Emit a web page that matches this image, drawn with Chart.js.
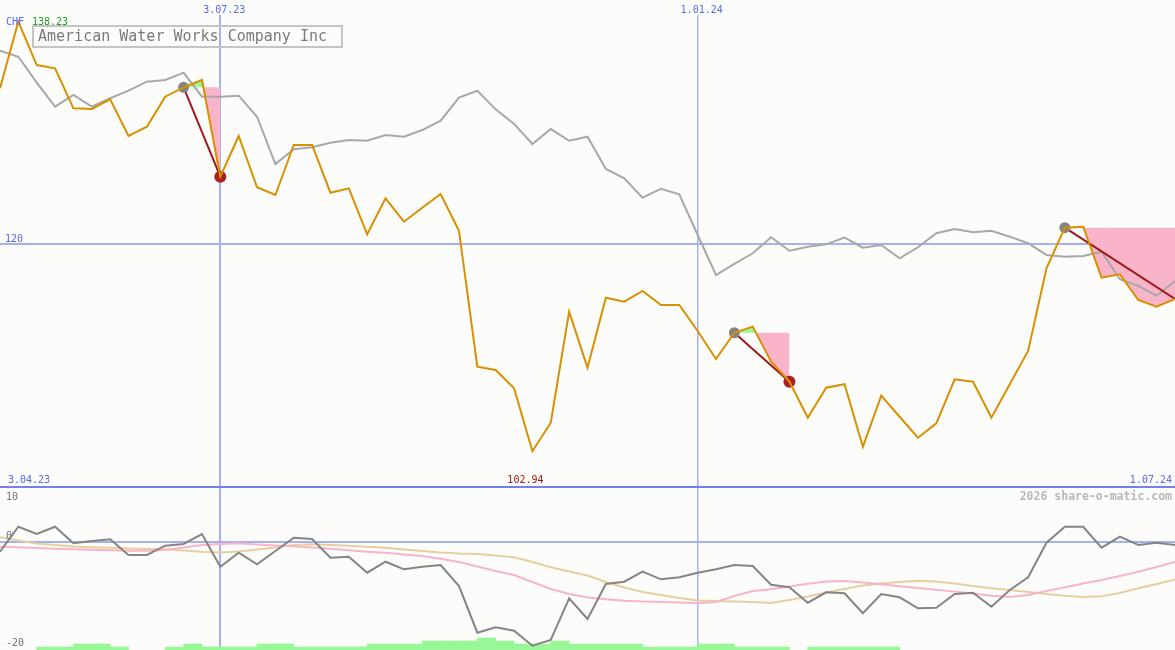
<!DOCTYPE html>
<html>
<head>
<meta charset="utf-8">
<script src="https://cdn.jsdelivr.net/npm/chart.js@4.4.1/dist/chart.umd.min.js"></script>
<style>
  body { margin: 0; background: #fcfdfa; }
  #wrap { position: relative; width: 1175px; height: 650px; overflow: hidden; background: #fcfdfa; }
  #priceChart { position: absolute; left: 0; top: 0; }
  #oscChart { position: absolute; left: 0; top: 488px; }
  .title {
    position: absolute; left: 32px; top: 25px; width: 303px; height: 19px;
    border: 2px solid #c4c4c4; padding-left: 4px; box-sizing: content-box;
    font: 15px "DejaVu Sans Mono", monospace; line-height: 19px; color: #7a7a7a;
    white-space: nowrap;
  }
</style>
</head>
<body>
<div id="wrap">
  <canvas id="priceChart" width="1175" height="489"></canvas>
  <canvas id="oscChart" width="1175" height="162"></canvas>
  <div class="title">American Water Works Company Inc</div>
</div>
<script>
// weekly dates (x categories)
const weeks = [
  '10.04.23', '17.04.23', '24.04.23', '1.05.23', '8.05.23', '15.05.23', '22.05.23', '29.05.23',
  '5.06.23', '12.06.23', '19.06.23', '26.06.23', '3.07.23', '10.07.23', '17.07.23', '24.07.23',
  '31.07.23', '7.08.23', '14.08.23', '21.08.23', '28.08.23', '4.09.23', '11.09.23', '18.09.23',
  '25.09.23', '2.10.23', '9.10.23', '16.10.23', '23.10.23', '30.10.23', '6.11.23', '13.11.23',
  '20.11.23', '27.11.23', '4.12.23', '11.12.23', '18.12.23', '25.12.23', '1.01.24', '8.01.24',
  '15.01.24', '22.01.24', '29.01.24', '5.02.24', '12.02.24', '19.02.24', '26.02.24', '4.03.24',
  '11.03.24', '18.03.24', '25.03.24', '1.04.24', '8.04.24', '15.04.24', '22.04.24', '29.04.24',
  '6.05.24', '13.05.24', '20.05.24', '27.05.24', '3.06.24', '10.06.24', '17.06.24', '24.06.24',
  '1.07.24'
];

// share price, CHF
const price = [
  132.75, 138.23, 134.66, 134.39, 131.10, 131.05, 131.84, 128.83, 129.59, 132.06,
  132.83, 133.43, 125.49, 128.83, 124.62, 123.98, 128.09, 128.09, 124.17, 124.53,
  120.76, 123.71, 121.79, 122.93, 124.07, 121.05, 109.88, 109.61, 108.11, 102.94,
  105.28, 114.40, 109.80, 115.55, 115.22, 116.10, 114.95, 114.95, 112.81, 110.51,
  112.67, 113.17, 110.29, 108.65, 105.69, 108.16, 108.44, 103.31, 107.50, 105.77,
  104.05, 105.23, 108.85, 108.65, 105.69, 108.44, 111.17, 117.96, 121.30, 121.38,
  117.19, 117.47, 115.36, 114.81, 115.44
];

// comparison index, rebased
const bench = [
  135.84, 135.34, 133.21, 131.24, 132.20, 131.24, 131.93, 132.55, 133.29, 133.43,
  134.03, 132.06, 132.06, 132.14, 130.41, 126.53, 127.74, 127.90, 128.28, 128.50,
  128.44, 128.91, 128.77, 129.32, 130.09, 131.98, 132.55, 131.02, 129.82, 128.17,
  129.40, 128.44, 128.77, 126.12, 125.36, 123.76, 124.50, 124.04, 120.70, 117.41,
  118.32, 119.20, 120.51, 119.41, 119.74, 119.93, 120.48, 119.66, 119.88, 118.78,
  119.69, 120.84, 121.19, 120.92, 121.05, 120.56, 120.02, 119.06, 118.92, 118.97,
  119.33, 117.06, 116.51, 115.71, 116.92
];

// oscillator panel
const momentum = [
  -1.80, 2.83, 1.48, 2.83, -0.24, 0.19, 0.50, -2.41, -2.41, -0.69,
  -0.37, 1.48, -4.57, -1.98, -4.13, -1.67, 0.80, 0.56, -2.91, -2.72,
  -5.69, -3.65, -5.06, -4.57, -4.26, -8.15, -16.80, -15.80, -16.43, -19.20,
  -18.15, -10.43, -14.26, -7.78, -7.35, -5.50, -6.91, -6.54, -5.69, -5.06,
  -4.26, -4.44, -7.91, -8.39, -11.24, -9.31, -9.50, -13.20, -9.63, -10.24,
  -12.28, -12.17, -9.63, -9.39, -11.98, -8.89, -6.54, -0.13, 2.83, 2.83,
  -1.06, 0.98, -0.56, -0.13, -0.56
];
const avgFast = [
  -0.87, -0.98, -1.11, -1.24, -1.33, -1.44, -1.54, -1.63, -1.63, -1.48,
  -1.02, -0.56, -0.37, -0.24, -0.46, -0.65, -0.80, -1.02, -1.26, -1.54,
  -1.80, -1.98, -2.31, -2.59, -3.11, -3.70, -4.54, -5.37, -6.11, -7.41,
  -8.70, -9.63, -10.28, -10.61, -10.87, -11.02, -11.11, -11.22, -11.35, -11.11,
  -10.00, -9.07, -8.76, -8.24, -7.74, -7.31, -7.22, -7.50, -7.83, -8.19,
  -8.52, -8.85, -9.19, -9.54, -9.94, -10.19, -9.81, -9.07, -8.37, -7.69,
  -7.04, -6.30, -5.50, -4.63, -3.70
];
const avgSlow = [
  0.87, 0.28, -0.28, -0.56, -0.83, -0.96, -1.07, -1.20, -1.31, -1.35,
  -1.57, -1.80, -1.94, -1.76, -1.39, -1.02, -0.56, -0.43, -0.56, -0.70,
  -0.87, -1.06, -1.39, -1.67, -1.94, -2.13, -2.22, -2.50, -2.83, -3.70,
  -4.69, -5.46, -6.20, -7.41, -8.43, -9.26, -9.81, -10.37, -10.83, -10.93,
  -11.02, -11.11, -11.30, -10.74, -10.09, -9.35, -8.70, -8.06, -7.69, -7.41,
  -7.19, -7.31, -7.69, -8.15, -8.57, -8.89, -9.26, -9.63, -9.94, -10.19,
  -10.06, -9.44, -8.57, -7.78, -6.94
];
// weekly volume level, one per week interval
const volume = [
  null, null, 1, 1, 2, 2, 1, null, null, 1, 2, 1, 1, 1, 2, 2,
  1, 1, 1, 1, 2, 2, 2, 3, 3, 3, 4, 3, 2, 2, 3, 2,
  2, 2, 2, 1, 1, 1, 2, 2, 1, 1, 1, null, 1, 1, 1, 1,
  1, null, null, null, null, null, null, null, null, null, null, null, null, null, null, null
];

// trade signals: buy week, sell week
const entries = [10, 40, 58];
const exits = [12, 43, 64];
const closed = [true, true, false];

// axis labels
const gridWeeks = [12, 38];
const gridLabels = ['3.07.23', '1.01.24'];
const startLabel = '3.04.23';
const endLabel = '1.07.24';

const BG = '#fcfdfa';
const BLUE = '#5868f0';
const GRID = '#a4b2f0';
const FONT = '"DejaVu Sans Mono", monospace';

const maxIdx = price.indexOf(Math.max(...price));
const minIdx = price.indexOf(Math.min(...price));

const vGrid = {
  drawTicks: false,
  color: (c) => gridWeeks.includes(c.tick && c.tick.value) ? GRID : 'rgba(0,0,0,0)',
  lineWidth: (c) => (c.tick && c.tick.value === gridWeeks[0]) ? 2 : 1.5
};

const signalLine = (s) => ({
  data: price.map((v, i) => (i === entries[s] || i === exits[s]) ? v : null),
  borderColor: '#a01818',
  borderWidth: 2,
  spanGaps: true,
  order: 1,
  pointRadius: (c) => c.dataIndex === entries[s] ? 5.5 : (c.dataIndex === exits[s] && closed[s] ? 6 : 0),
  pointBackgroundColor: (c) => c.dataIndex === entries[s] ? '#858585' : '#a82020',
  pointBorderWidth: 0
});

const levelFill = (s) => ({
  data: price.map((v, i) => (i >= entries[s] && i <= exits[s]) ? price[entries[s]] : null),
  borderColor: 'rgba(0,0,0,0)',
  borderWidth: 1,
  pointRadius: 0,
  order: 3,
  fill: { target: 0, above: '#f9b4c9', below: '#98f898' }
});

const priceText = {
  id: 'priceText',
  afterDraw(chart) {
    const { ctx, chartArea: a, scales: { x, y } } = chart;
    ctx.save();
    ctx.font = '10px ' + FONT;
    ctx.textBaseline = 'alphabetic';
    gridWeeks.forEach((w, k) => {
      const px = x.getPixelForValue(w) + 4;
      const tw = ctx.measureText(gridLabels[k]).width;
      ctx.fillStyle = BG;
      ctx.fillRect(px - tw / 2 - 3, 0, tw + 6, 15);
      ctx.fillStyle = BLUE;
      ctx.textAlign = 'center';
      ctx.fillText(gridLabels[k], px, 12.5);
    });
    ctx.textAlign = 'left';
    ctx.fillStyle = BLUE;
    ctx.fillText('CHF', 6, 25);
    ctx.fillStyle = '#22a022';
    ctx.fillText(price[maxIdx].toFixed(2), 32, 25);
    ctx.fillStyle = BLUE;
    ctx.fillText('120', 5, y.getPixelForValue(120) - 2);
    ctx.fillText(startLabel, 8, a.bottom - 4.5);
    ctx.textAlign = 'right';
    ctx.fillText(endLabel, a.right - 3, a.bottom - 4.5);
    ctx.textAlign = 'center';
    ctx.fillStyle = '#a01818';
    ctx.fillText(price[minIdx].toFixed(2), x.getPixelForValue(minIdx) - 7, a.bottom - 4.5);
    ctx.restore();
  }
};

const oscText = {
  id: 'oscText',
  afterDraw(chart) {
    const { ctx, chartArea: a, scales: { y } } = chart;
    ctx.save();
    ctx.font = '10px ' + FONT;
    ctx.fillStyle = '#707070';
    ctx.textAlign = 'left';
    ctx.fillText('10', 6, a.top + 11.5);
    ctx.fillText('0', 6, y.getPixelForValue(0) - 3.5);
    ctx.fillText('-20', 6, a.bottom - 4);
    ctx.font = 'bold 11.5px ' + FONT;
    ctx.fillStyle = '#b8b8b8';
    ctx.textAlign = 'right';
    ctx.fillText('2026 share-o-matic.com', a.right - 3, a.top + 12);
    ctx.restore();
  }
};

new Chart(document.getElementById('priceChart'), {
  type: 'line',
  data: {
    labels: weeks,
    datasets: [
      { data: price, borderColor: '#d99000', borderWidth: 2, pointRadius: 0, order: 0 },
      signalLine(0), signalLine(1), signalLine(2),
      { data: bench, borderColor: '#a8a8a8', borderWidth: 2, pointRadius: 0, order: 2 },
      levelFill(0), levelFill(1), levelFill(2)
    ]
  },
  options: {
    responsive: false,
    animation: false,
    layout: { padding: { left: 0, right: 0, top: 0, bottom: 2 } },
    elements: { line: { tension: 0 } },
    plugins: { legend: { display: false }, tooltip: { enabled: false } },
    scales: {
      x: {
        offset: false,
        ticks: { display: false, autoSkip: false },
        border: { display: false },
        grid: vGrid
      },
      y: {
        min: 100, max: 140,
        ticks: { display: false, stepSize: 20 },
        border: { display: false },
        grid: {
          drawTicks: false,
          color: (c) => c.tick.value === 120 ? GRID : (c.tick.value === 100 ? '#7282ea' : 'rgba(0,0,0,0)'),
          lineWidth: 2
        }
      }
    }
  },
  plugins: [priceText]
});

new Chart(document.getElementById('oscChart'), {
  type: 'line',
  data: {
    labels: weeks,
    datasets: [
      { data: momentum, borderColor: '#858585', borderWidth: 2, pointRadius: 0, order: 0 },
      { data: avgFast, borderColor: '#f8b4c8', borderWidth: 2, pointRadius: 0, order: 1 },
      { data: avgSlow, borderColor: '#e6cf9f', borderWidth: 2, pointRadius: 0, order: 2 },
      {
        type: 'bar', data: volume, xAxisID: 'x2', yAxisID: 'yv', order: 3, grouped: false,
        backgroundColor: '#98f898', barPercentage: 1, categoryPercentage: 1, borderWidth: 0
      }
    ]
  },
  options: {
    responsive: false,
    animation: false,
    layout: { padding: 0 },
    elements: { line: { tension: 0 } },
    plugins: { legend: { display: false }, tooltip: { enabled: false } },
    scales: {
      x: {
        offset: false,
        ticks: { display: false, autoSkip: false },
        border: { display: false },
        grid: vGrid
      },
      x2: {
        type: 'category',
        labels: weeks.slice(0, weeks.length - 1),
        offset: true,
        display: false
      },
      y: {
        min: -20, max: 10,
        ticks: { display: false, stepSize: 10 },
        border: { display: false },
        grid: {
          drawTicks: false,
          color: (c) => c.tick.value === 0 ? GRID : 'rgba(0,0,0,0)',
          lineWidth: 2
        }
      },
      yv: { min: 0, max: 54, display: false }
    }
  },
  plugins: [oscText]
});
</script>
</body>
</html>
